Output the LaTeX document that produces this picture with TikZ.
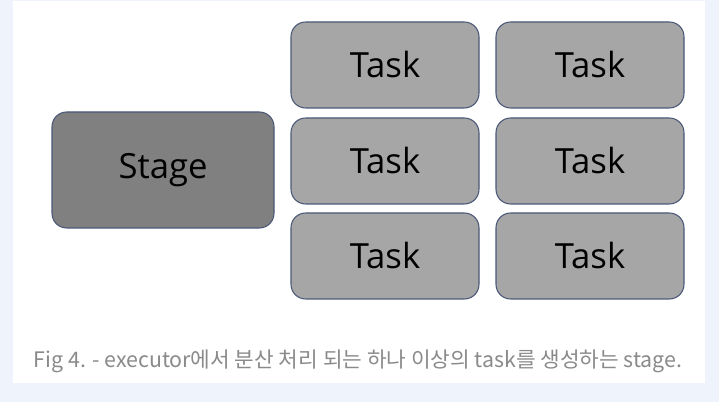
\documentclass[tikz,border=0pt]{standalone}
\usepackage{fontspec}
\setmainfont{Open Sans}
\newfontfamily\krfont{Noto Sans CJK KR}
\definecolor{boxline}{HTML}{4A5877}
\definecolor{stagefill}{HTML}{808080}
\definecolor{taskfill}{HTML}{A6A6A6}
\definecolor{pagebg}{HTML}{EEF3FC}
\definecolor{captiongray}{HTML}{8A8A8A}
\begin{document}
\begin{tikzpicture}[x=0.75pt,y=-0.75pt]
        \tikzstyle{box}=[rectangle,rounded corners=11pt,draw=boxline,line width=0.8pt,inner sep=0pt]
        \tikzstyle{stagebox}=[box,fill=stagefill,minimum width=166.5pt,minimum height=87pt,font=\fontsize{26}{30}\selectfont]
        \tikzstyle{taskbox}=[box,fill=taskfill,minimum width=141pt,minimum height=64.5pt,font=\fontsize{26}{30}\selectfont]
        % background and white panel
        \fill[pagebg] (0,0) rectangle (719,402);
        \fill[white] (13,1) rectangle (705,383);
        \useasboundingbox (0,0) rectangle (719,402);
       \begin{scope}
         \node [stagebox] (stage) at (163,170) {Stage};
         \node [taskbox] (t11) at (385,65) {Task};
         \node [taskbox] (t12) at (590,65) {Task};
         \node [taskbox] (t21) at (385,161) {Task};
         \node [taskbox] (t22) at (590,161) {Task};
         \node [taskbox] (t31) at (385,256) {Task};
         \node [taskbox] (t32) at (590,256) {Task};
        \end{scope}
        % caption
        \node [font=\krfont\fontsize{16}{19}\selectfont,text=captiongray,anchor=base] (caption) at (358,368)
          {Fig 4. - executor에서 분산 처리 되는 하나 이상의 task를 생성하는 stage.};
      \end{tikzpicture}
\end{document}
